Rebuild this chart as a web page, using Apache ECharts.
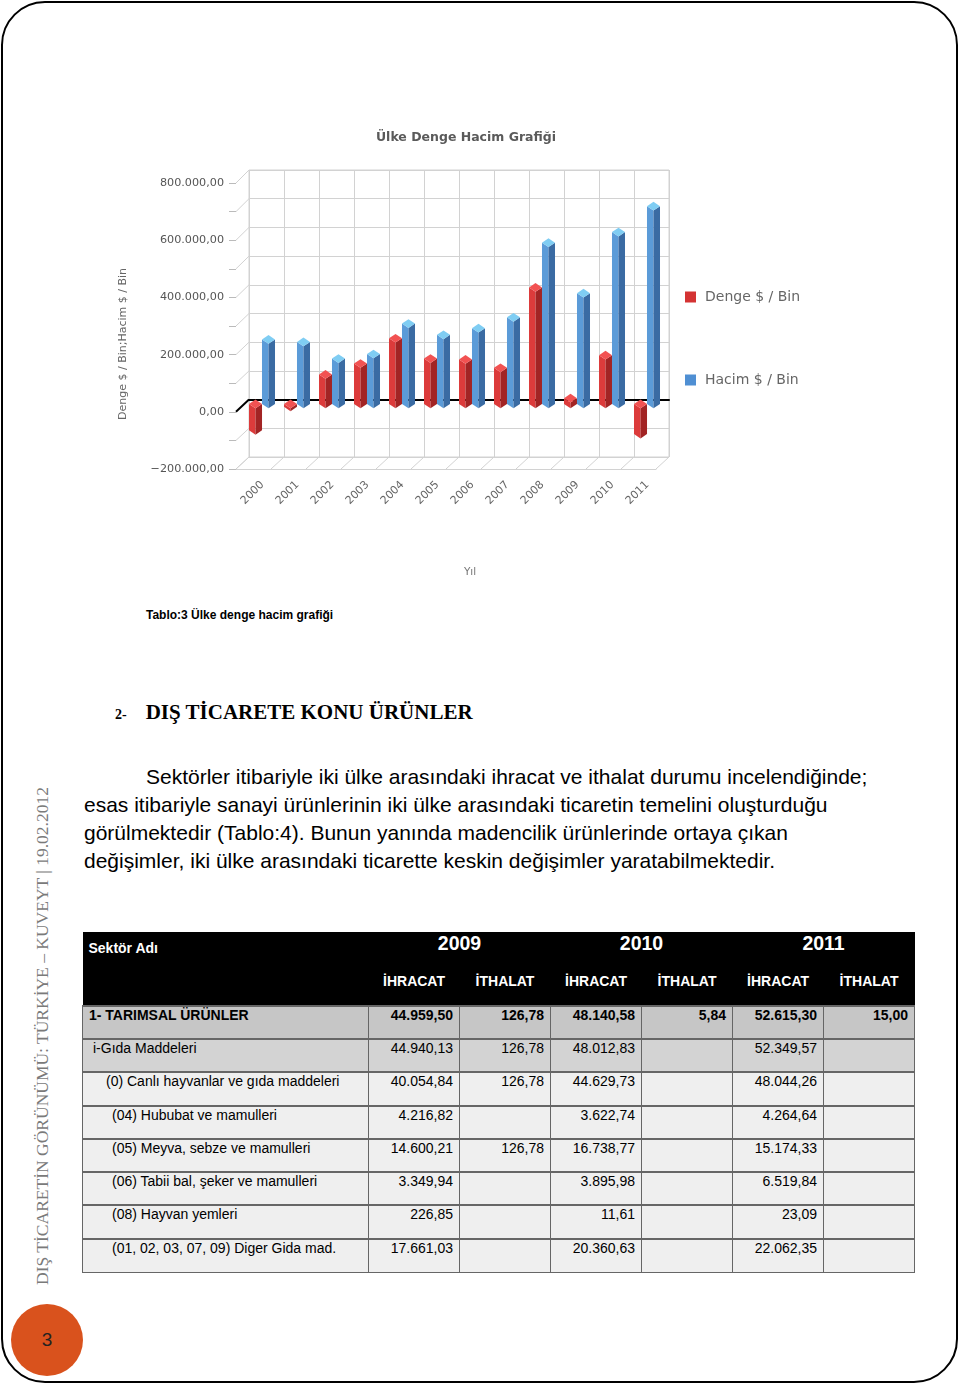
<!DOCTYPE html>
<html>
<head>
<meta charset="utf-8">
<script src="https://cdn.jsdelivr.net/npm/echarts@6/dist/echarts.min.js"></script>
<style>
body { margin:0; width:960px; height:1386px; position:relative; background:#fff; overflow:hidden;
       font-family:"Liberation Sans", Arial, sans-serif; }
#frame { position:absolute; left:1px; top:1px; width:957px; height:1382px; box-sizing:border-box;
         border:2px solid #000; border-radius:44px; }
#chart { position:absolute; left:0; top:0; width:960px; height:600px; }
.cap { position:absolute; left:146px; top:608px; font-size:12px; font-weight:bold; color:#000; }
.h2 { position:absolute; left:115px; top:700px; font-family:"Liberation Serif", serif; font-weight:bold; color:#000; }
.h2 .n { font-size:14px; margin-right:19px; }
.h2 .t { font-size:21px; }
.para { position:absolute; left:84px; top:763px; font-size:21px; line-height:28px; color:#000; white-space:nowrap; }
.side { position:absolute; left:42px; top:1036px; transform:translate(-50%,-50%) rotate(-90deg);
        font-family:"Liberation Serif", serif; font-size:17.5px; color:#7a7a7a; white-space:nowrap; }
.page { position:absolute; left:11px; top:1304px; width:72px; height:72px; border-radius:50%;
        background:#d9521d; color:#222; font-size:19px; text-align:center; line-height:72px; }
table { position:absolute; left:82px; top:932px; border-collapse:collapse; table-layout:fixed; width:832px; font-size:14px; }
td { border:1px solid #666; padding:0 6px 0 6px; vertical-align:top; height:33.3px; box-sizing:border-box; white-space:nowrap; }
td.num { text-align:right; }
tr.hd td { background:#000; color:#fff; border:none; font-weight:bold; }
tr.hd1 td { height:32px; vertical-align:middle; }
tr.hd2 td { height:42px; vertical-align:middle; text-align:center; padding:0 0 7px 0; }
tr.b td { font-weight:bold; background:#c6c6c6; height:33px; border-top:2px solid #666; }
tr.g td { background:#d3d3d3; border-top:2px solid #666; }
tr.l td { background:#efefef; border-top:2px solid #666; }
</style>
</head>
<body>
<div id="frame"></div>
<div id="chart"></div>

<div class="cap">Tablo:3 Ülke denge hacim grafiği</div>
<div class="h2"><span class="n">2-</span><span class="t">DIŞ TİCARETE KONU ÜRÜNLER</span></div>
<div class="para"><span style="padding-left:62px"></span>Sektörler itibariyle iki ülke arasındaki ihracat ve ithalat durumu incelendiğinde;<br>esas itibariyle sanayi ürünlerinin iki ülke arasındaki ticaretin temelini oluşturduğu<br>görülmektedir (Tablo:4). Bunun yanında madencilik ürünlerinde ortaya çıkan<br>değişimler, iki ülke arasındaki ticarette keskin değişimler yaratabilmektedir.</div>
<div class="side">DIŞ TİCARETİN GÖRÜNÜMÜ: TÜRKİYE – KUVEYT | 19.02.2012</div>
<div class="page">3</div>

<table id="tbl"></table>

<script>
// chart data ($ / Bin)
var years = ['2000', '2001', '2002', '2003', '2004', '2005', '2006', '2007', '2008', '2009', '2010', '2011'];
var dengeValues = [-92000, -10000, 103000, 141000, 229000, 158000, 155000, 126000, 406000, 20000, 170000, -105000];
var hacimValues = [225000, 216000, 158000, 174000, 280000, 241000, 264000, 302000, 562000, 386000, 599000, 689000];
var yTicks = [-200000, -100000, 0, 100000, 200000, 300000, 400000, 500000, 600000, 700000, 800000];

// table data
var tableYears = ['2009', '2010', '2011'];
var tableCols = ['İHRACAT', 'İTHALAT'];
var sectorNames = ['1- TARIMSAL ÜRÜNLER', 'i-Gıda Maddeleri', '(0) Canlı hayvanlar ve gıda maddeleri',
  '(04) Hububat ve mamulleri', '(05) Meyva, sebze ve mamulleri', '(06) Tabii bal, şeker ve mamulleri',
  '(08) Hayvan yemleri', '(01, 02, 03, 07, 09) Diger Gida mad.'];
var sectorValues = [
  ['44.959,50', '126,78', '48.140,58', '5,84', '52.615,30', '15,00'],
  ['44.940,13', '126,78', '48.012,83', '', '52.349,57', ''],
  ['40.054,84', '126,78', '44.629,73', '', '48.044,26', ''],
  ['4.216,82', '', '3.622,74', '', '4.264,64', ''],
  ['14.600,21', '126,78', '16.738,77', '', '15.174,33', ''],
  ['3.349,94', '', '3.895,98', '', '6.519,84', ''],
  ['226,85', '', '11,61', '', '23,09', ''],
  ['17.661,03', '', '20.360,63', '', '22.062,35', '']
];
var sectorIndent = [6, 10, 23, 29, 29, 29, 29, 29];

// build table
var html = '<colgroup><col style="width:286px">';
for (var c = 0; c < 6; c++) html += '<col style="width:91px">';
html += '</colgroup>';
html += '<tr class="hd hd1"><td style="padding-left:6px;padding-top:0">Sektör Adı</td>';
tableYears.forEach(function (y) {
  html += '<td colspan="2" style="text-align:center;font-size:19.5px;vertical-align:top;padding-top:0">' + y + '</td>';
});
html += '</tr><tr class="hd hd2"><td></td>';
tableYears.forEach(function () {
  tableCols.forEach(function (t) { html += '<td>' + t + '</td>'; });
});
html += '</tr>';
sectorNames.forEach(function (name, i) {
  var cls = i === 0 ? 'b' : (i === 1 ? 'g' : 'l');
  html += '<tr class="' + cls + '"><td style="padding-left:' + sectorIndent[i] + 'px">' + name + '</td>';
  sectorValues[i].forEach(function (v) { html += '<td class="num">' + v + '</td>'; });
  html += '</tr>';
});
document.getElementById('tbl').innerHTML = html;

function fmtTr(v) {
  if (v % 200000 !== 0) return '';
  if (v === 0) return '0,00';
  var s = Math.abs(v).toString().replace(/\B(?=(\d{3})+(?!\d))/g, '.') + ',00';
  return (v < 0 ? '\u2212' : '') + s;
}

// 3D looking prism drawn from the axis coordinates
function prism(shift, faces) {
  return function (params, api) {
    var idx = api.value(0);
    var v = api.value(1);
    var bw = api.size([1, 0])[0];
    var p = api.coord([idx, v]);
    var p0 = api.coord([idx, 0]);
    var cx = p[0] + shift * bw;
    var hw = bw * 0.186;
    var dh = 4.35;
    var t = Math.min(p[1], p0[1]);
    var b = Math.max(p[1], p0[1]);
    return {
      type: 'group',
      children: [
        { type: 'polygon', shape: { points: [[cx - hw, t + dh], [cx, t + 2 * dh], [cx, b + 2 * dh], [cx - hw, b + dh]] },
          style: { fill: faces[0] } },
        { type: 'polygon', shape: { points: [[cx, t + 2 * dh], [cx + hw, t + dh], [cx + hw, b + dh], [cx, b + 2 * dh]] },
          style: { fill: faces[1] } },
        { type: 'polygon', shape: { points: [[cx, t], [cx + hw, t + dh], [cx, t + 2 * dh], [cx - hw, t + dh]] },
          style: { fill: faces[2] } }
      ]
    };
  };
}

var font = 'DejaVu Sans';
var gridColor = '#d2d2d2';
var chart = echarts.init(document.getElementById('chart'));
var option = {
  animation: false,
  title: {
    text: 'Ülke Denge Hacim Grafiği', left: 461, top: 126, textAlign: 'center',
    textStyle: { fontFamily: font, fontSize: 12.5, fontWeight: 'bold', color: '#5a5a5a' }
  },
  legend: {
    orient: 'vertical', left: 685, top: 290, padding: 0, itemGap: 69,
    itemWidth: 11, itemHeight: 11, icon: 'rect',
    textStyle: { fontFamily: font, fontSize: 14, color: '#666', padding: [0, 0, 0, 4] },
    data: ['Denge $ / Bin', 'Hacim $ / Bin']
  },
  grid: [
    { left: 249, top: 170, width: 420, height: 287, show: true, borderColor: gridColor, borderWidth: 1 },
    { left: 236, top: 183, width: 420, height: 286 },
    { left: 245, top: 183, width: 420, height: 286 }
  ],
  xAxis: [
    { type: 'category', gridIndex: 0, data: years,
      axisLine: { onZero: true, lineStyle: { color: '#000', width: 2 } },
      axisTick: { show: false }, axisLabel: { show: false },
      splitLine: { show: true, lineStyle: { color: gridColor } } },
    { type: 'category', gridIndex: 1, data: years,
      axisLine: { onZero: false, lineStyle: { color: gridColor } },
      axisTick: { show: false }, axisLabel: { show: false },
      name: 'Yıl', nameLocation: 'middle', nameGap: 98,
      nameTextStyle: { fontFamily: font, fontSize: 10.5, color: '#777', padding: [0, 0, 0, 48] } },
    { type: 'category', gridIndex: 2, data: years,
      axisLine: { show: false, onZero: false }, axisTick: { show: false },
      axisLabel: { rotate: 45, margin: 14, fontFamily: font, fontSize: 11, color: '#666' } }
  ],
  yAxis: [
    { type: 'value', gridIndex: 0, min: -200000, max: 800000, interval: 100000,
      axisLine: { show: false }, axisTick: { show: false }, axisLabel: { show: false },
      splitLine: { lineStyle: { color: gridColor } } },
    { type: 'value', gridIndex: 1, min: -200000, max: 800000, interval: 100000,
      axisLine: { show: false },
      axisTick: { show: true, length: 7, lineStyle: { color: '#bbb' } },
      axisLabel: { margin: 12, formatter: fmtTr, fontFamily: font, fontSize: 11.2, color: '#555' },
      splitLine: { show: false },
      name: 'Denge $ / Bin;Hacim $ / Bin', nameLocation: 'middle', nameGap: 107, nameRotate: 90,
      nameTextStyle: { fontFamily: font, fontSize: 11, color: '#666', padding: [0, 36, 0, 0] } },
    { type: 'value', gridIndex: 2, min: -200000, max: 800000, show: false }
  ],
  series: [
    { name: 'Denge $ / Bin', type: 'custom', xAxisIndex: 0, yAxisIndex: 0, z: 3,
      itemStyle: { color: '#d43333' },
      renderItem: prism(-0.314, ['#dc3b3b', '#a22424', '#f25252']),
      data: years.map(function (y, i) { return [i, dengeValues[i]]; }) },
    { name: 'Hacim $ / Bin', type: 'custom', xAxisIndex: 0, yAxisIndex: 0, z: 3,
      itemStyle: { color: '#4f8fd3' },
      renderItem: prism(0.057, ['#5b9bd8', '#3a6ba3', '#7fcdf3']),
      data: years.map(function (y, i) { return [i, hacimValues[i]]; }) }
  ]
};
chart.setOption(option);

// floor and side wall edges, placed with the axis scales
var back0 = chart.convertToPixel({ xAxisIndex: 0, yAxisIndex: 0 }, [0, -200000]);
var back1 = chart.convertToPixel({ xAxisIndex: 0, yAxisIndex: 0 }, [1, -200000]);
var front0 = chart.convertToPixel({ xAxisIndex: 1, yAxisIndex: 1 }, [0, -200000]);
var bw = back1[0] - back0[0];
var deco = [];
for (var i = 0; i <= years.length; i++) {
  deco.push({ type: 'line', z: 1, silent: true,
    shape: { x1: back0[0] - bw / 2 + i * bw, y1: back0[1], x2: front0[0] - bw / 2 + i * bw, y2: front0[1] },
    style: { stroke: gridColor, lineWidth: 1 } });
}
yTicks.forEach(function (v) {
  var pb = chart.convertToPixel({ xAxisIndex: 0, yAxisIndex: 0 }, [0, v]);
  var pf = chart.convertToPixel({ xAxisIndex: 1, yAxisIndex: 1 }, [0, v]);
  deco.push({ type: 'line', z: v === 0 ? 5 : 1, silent: true,
    shape: { x1: pb[0] - bw / 2, y1: pb[1], x2: pf[0] - bw / 2, y2: pf[1] },
    style: { stroke: v === 0 ? '#000' : gridColor, lineWidth: v === 0 ? 2 : 1 } });
});
chart.setOption({ graphic: deco });
</script>
</body>
</html>
